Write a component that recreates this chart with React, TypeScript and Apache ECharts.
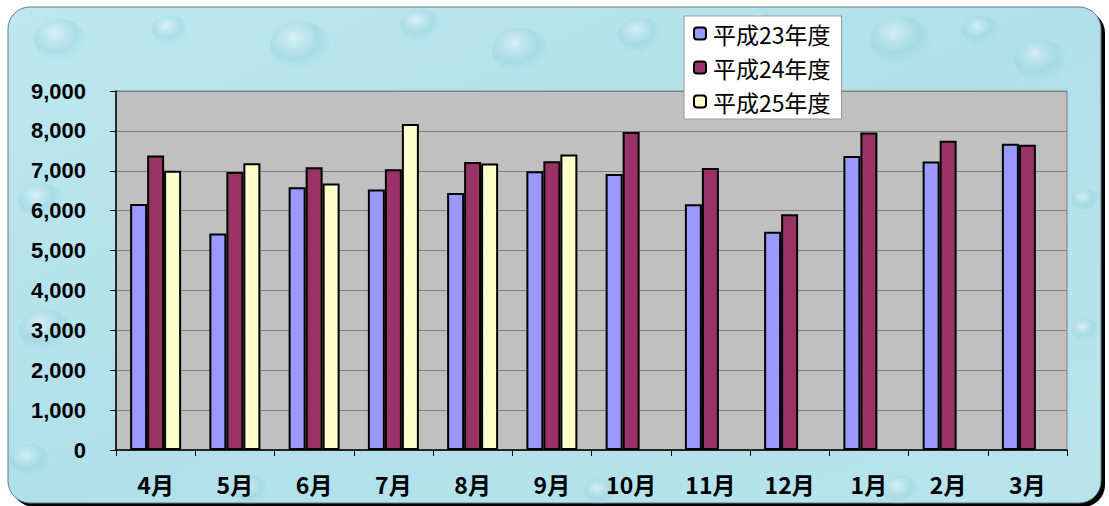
import React, { useEffect, useRef } from "react";
import * as echarts from "echarts";

const months = ["4月", "5月", "6月", "7月", "8月", "9月", "10月", "11月", "12月", "1月", "2月", "3月"];
const seriesNames = ["平成23年度", "平成24年度", "平成25年度"];
const h23 = [6170, 5430, 6590, 6530, 6440, 6990, 6920, 6160, 5470, 7370, 7230, 7680];
const h24 = [7380, 6970, 7090, 7040, 7220, 7240, 7970, 7070, 5910, 7960, 7750, 7650];
const h25 = [7000, 7190, 6680, 8170, 7180, 7410, null, null, null, null, null, null];
const colors = ["#9999ff", "#993366", "#ffffcc"];

// decorative droplet highlights for the textured background (not data)
const drops = [
  [60, 40, 26], [170, 30, 18], [300, 45, 30], [420, 25, 20], [520, 50, 28], [640, 35, 22],
  [900, 40, 30], [1040, 60, 26], [40, 200, 22], [45, 330, 26], [30, 460, 20], [1085, 200, 14],
  [1085, 330, 14], [250, 490, 18], [600, 492, 16], [900, 490, 18], [980, 30, 18], [760, 20, 12],
];

export default function App() {
  const ref = useRef<HTMLDivElement>(null);
  useEffect(() => {
    const chart = echarts.init(ref.current!, null, { renderer: "svg" });
    const mk = (name: string, data: (number | null)[], color: string) => ({
      name,
      type: "bar",
      data,
      barWidth: 17,
      barGap: "0%",
      itemStyle: { color, borderColor: "#000", borderWidth: 2 },
    });
    const dropGraphics = drops.map(([cx, cy, r]) => ({
      type: "ellipse",
      shape: { cx, cy, rx: r, ry: r * 0.8 },
      style: {
        fill: new echarts.graphic.RadialGradient(0.4, 0.35, 0.7, [
          { offset: 0, color: "rgba(255,255,255,0.45)" },
          { offset: 0.6, color: "rgba(140,205,220,0.35)" },
          { offset: 1, color: "rgba(160,215,228,0)" },
        ]),
      },
      z: -8,
      silent: true,
    }));
    chart.setOption({
      animation: false,
      graphic: [
        {
          type: "rect",
          shape: { x: 12, y: 11, width: 1093, height: 496, r: 22 },
          style: { fill: "#000" },
          z: -10,
        },
        {
          type: "rect",
          shape: { x: 8, y: 7, width: 1093, height: 496, r: 22 },
          style: {
            fill: new echarts.graphic.LinearGradient(0, 0, 1, 1, [
              { offset: 0, color: "#bde8ef" },
              { offset: 0.5, color: "#b0e0ea" },
              { offset: 1, color: "#b8e5ed" },
            ]),
            stroke: "#5f7f86",
            lineWidth: 1,
          },
          z: -9,
        },
        ...dropGraphics,
      ],
      grid: {
        left: 116,
        right: 42,
        top: 91,
        bottom: 56,
        show: true,
        backgroundColor: "#c0c0c0",
        borderColor: "#808080",
        borderWidth: 1,
      },
      legend: {
        orient: "vertical",
        left: 684,
        top: 16,
        width: 164,
        backgroundColor: "#ffffff",
        borderColor: "#999",
        borderWidth: 1,
        padding: [5, 11, 5, 9],
        itemWidth: 12,
        itemHeight: 12,
        itemGap: 9,
        textStyle: {
          fontSize: 23,
          lineHeight: 25,
          color: "#000",
          fontFamily: "Noto Sans CJK JP",
          padding: [0, 0, 0, 2],
        },
        data: seriesNames,
      },
      xAxis: {
        type: "category",
        data: months,
        axisLine: { lineStyle: { color: "#000", width: 1.5 } },
        axisTick: { show: true, length: 6, lineStyle: { color: "#000" } },
        axisLabel: {
          fontSize: 23,
          fontWeight: "bold",
          color: "#000",
          fontFamily: "Noto Sans CJK JP",
          margin: 22,
        },
      },
      yAxis: {
        type: "value",
        min: 0,
        max: 9000,
        interval: 1000,
        axisLine: { show: true, lineStyle: { color: "#000", width: 1.5 } },
        axisTick: { show: true, length: 6, lineStyle: { color: "#000" } },
        splitLine: { lineStyle: { color: "#808080", width: 1 } },
        axisLabel: {
          fontSize: 22,
          fontWeight: "bold",
          color: "#000",
          fontFamily: "Liberation Sans",
          margin: 30,
          formatter: (v: number) => v.toLocaleString("en-US"),
        },
      },
      series: [mk(seriesNames[0], h23, colors[0]), mk(seriesNames[1], h24, colors[1]), mk(seriesNames[2], h25, colors[2])],
    });
    return () => chart.dispose();
  }, []);
  return <div ref={ref} style={{ position: "absolute", left: 0, top: 0, width: 1109, height: 506 }} />;
}
